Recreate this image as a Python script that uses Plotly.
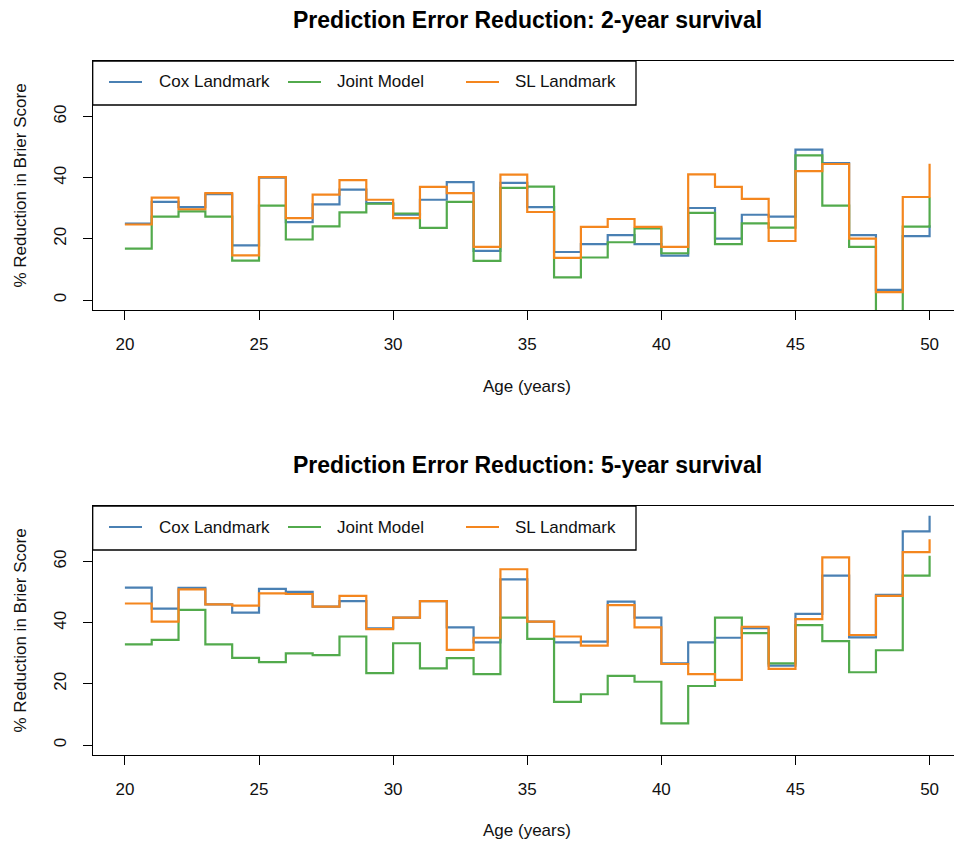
import plotly.graph_objects as go

# ---------------- data ----------------
ages = list(range(20, 51))

cox_2yr = [25.0, 32.1, 30.4, 34.6, 17.9, 40.0, 25.5, 31.3, 36.1, 31.7,
           27.9, 32.8, 38.6, 16.1, 38.3, 30.4, 15.7, 18.3, 21.2, 18.3,
           14.5, 30.1, 20.1, 27.9, 27.3, 49.2, 44.8, 21.2, 3.3, 20.9, 24.5]
joint_2yr = [16.8, 27.3, 29.0, 27.3, 12.9, 30.9, 19.8, 24.1, 28.7, 31.5,
             28.3, 23.6, 32.1, 12.8, 36.7, 37.1, 7.4, 13.9, 18.9, 23.4,
             15.3, 28.5, 18.3, 25.1, 23.7, 47.3, 30.9, 17.4, -12.0, 24.0, 33.5]
sl_2yr = [24.7, 33.5, 29.7, 35.0, 14.6, 40.2, 26.8, 34.5, 39.2, 32.8,
          26.8, 37.0, 35.0, 17.4, 41.0, 28.8, 13.8, 23.9, 26.5, 23.9,
          17.4, 41.1, 37.0, 33.1, 19.3, 42.2, 44.5, 20.1, 2.6, 33.7, 44.6]

cox_5yr = [51.5, 44.6, 51.4, 46.0, 43.3, 51.1, 50.1, 45.3, 47.1, 38.2,
           41.7, 47.1, 38.5, 33.6, 54.2, 40.4, 33.6, 33.8, 46.9, 41.7,
           26.7, 33.6, 35.1, 38.2, 26.0, 42.9, 55.4, 35.2, 49.1, 69.9, 75.0]
joint_5yr = [32.9, 34.4, 44.2, 32.9, 28.5, 27.1, 30.0, 29.4, 35.5, 23.5,
             33.3, 25.1, 28.4, 23.2, 41.7, 34.7, 14.1, 16.6, 22.6, 20.7,
             7.1, 19.3, 41.7, 36.6, 26.7, 39.2, 34.0, 23.8, 31.0, 55.4, 61.9]
sl_5yr = [46.3, 40.4, 50.9, 46.0, 45.6, 49.6, 49.4, 45.3, 48.8, 37.9,
          41.7, 47.1, 31.1, 35.1, 57.5, 40.4, 35.5, 32.5, 45.8, 38.5,
          26.5, 23.2, 21.3, 38.7, 24.9, 41.2, 61.4, 36.0, 48.8, 63.1, 67.3]

series_names = ["Cox Landmark", "Joint Model", "SL Landmark"]
colors = ["#4A80B3", "#52AA4C", "#F4861E"]
x_ticks = [20, 25, 30, 35, 40, 45, 50]
y_ticks = [0, 20, 40, 60]
titles = ["Prediction Error Reduction: 2-year survival",
          "Prediction Error Reduction: 5-year survival"]
x_title = "Age (years)"
y_title = "% Reduction in Brier Score"

# ---------------- layout helpers ----------------
W, H = 954, 845
FONT = "Liberation Sans, Arial, sans-serif"


def px(x):
    return x / W


def py(y):
    return 1 - y / H


fig = go.Figure()

panels = [
    dict(data=[cox_2yr, joint_2yr, sl_2yr], xa="x", ya="y", top=61, bottom=310),
    dict(data=[cox_5yr, joint_5yr, sl_5yr], xa="x2", ya="y2", top=506, bottom=755),
]

for p in panels:
    for name, vals, col in zip(series_names, p["data"], colors):
        fig.add_trace(go.Scatter(
            x=ages, y=vals, mode="lines", name=name,
            line=dict(color=col, width=2.2, shape="hv"),
            xaxis=p["xa"], yaxis=p["ya"], showlegend=False,
            hoverinfo="x+y+name"))

x_range = [18.8, 50.91]
y_range = [-3.27, 78.2]

axis_common_x = dict(
    range=x_range, tickvals=x_ticks, ticks="outside", ticklen=9,
    tickwidth=1, tickcolor="black", showline=True, linecolor="black",
    linewidth=1.3, mirror=True, showgrid=False, zeroline=False,
    tickfont=dict(family=FONT, size=17, color="#111"),
    ticklabelstandoff=9, fixedrange=True)
axis_common_y = dict(
    range=y_range, tickvals=y_ticks, ticks="outside", ticklen=9,
    tickwidth=1, tickcolor="black", showline=True, linecolor="black",
    linewidth=1.3, mirror=False, showgrid=False, zeroline=False,
    tickangle=-90, tickfont=dict(family=FONT, size=17, color="#111"),
    ticklabelstandoff=10, fixedrange=True)

dom_x = [px(92.7), 1.0]
fig.update_layout(
    width=W, height=H, margin=dict(l=0, r=0, t=0, b=0),
    paper_bgcolor="white", plot_bgcolor="white",
    xaxis=dict(domain=dom_x, anchor="y", **axis_common_x),
    yaxis=dict(domain=[py(310), py(61)], anchor="x", **axis_common_y),
    xaxis2=dict(domain=dom_x, anchor="y2", **axis_common_x),
    yaxis2=dict(domain=[py(755), py(506)], anchor="x2", **axis_common_y),
    font=dict(family=FONT, color="#111"),
)

shapes = []
annotations = []
title_y = [20, 465]
xtitle_y = [386, 830]
legend_top = [61, 506]
for i, p in enumerate(panels):
    # main title
    annotations.append(dict(
        text="<b>" + titles[i] + "</b>", x=px(527), y=py(title_y[i]),
        xref="paper", yref="paper", xanchor="center", yanchor="middle",
        showarrow=False, font=dict(family=FONT, size=23, color="black")))
    # x-axis title
    annotations.append(dict(
        text=x_title, x=px(527), y=py(xtitle_y[i]),
        xref="paper", yref="paper", xanchor="center", yanchor="middle",
        showarrow=False, font=dict(family=FONT, size=17, color="#111")))
    # y-axis title
    annotations.append(dict(
        text=y_title, x=px(20), y=py((p["top"] + p["bottom"]) / 2),
        xref="paper", yref="paper", xanchor="center", yanchor="middle",
        textangle=-90, showarrow=False,
        font=dict(family=FONT, size=17, color="#111")))
    # legend box
    lt = legend_top[i]
    lb = lt + 44
    shapes.append(dict(
        type="rect", xref="paper", yref="paper",
        x0=px(92.7), x1=px(636), y0=py(lb), y1=py(lt),
        line=dict(color="black", width=1.3), fillcolor="white", layer="above"))
    ly = lt + 21
    sample_x = [(109, 142), (288, 321), (466, 499)]
    text_x = [157, 335, 513]
    for (sx0, sx1), tx, name, col in zip(sample_x, text_x, series_names, colors):
        shapes.append(dict(
            type="line", xref="paper", yref="paper",
            x0=px(sx0), x1=px(sx1), y0=py(ly), y1=py(ly),
            line=dict(color=col, width=2.2), layer="above"))
        annotations.append(dict(
            text=name, x=px(tx), y=py(ly), xref="paper", yref="paper",
            xanchor="left", yanchor="middle", showarrow=False,
            font=dict(family=FONT, size=17, color="#111")))

fig.update_layout(shapes=shapes, annotations=annotations)

fig.write_html("out.html")
